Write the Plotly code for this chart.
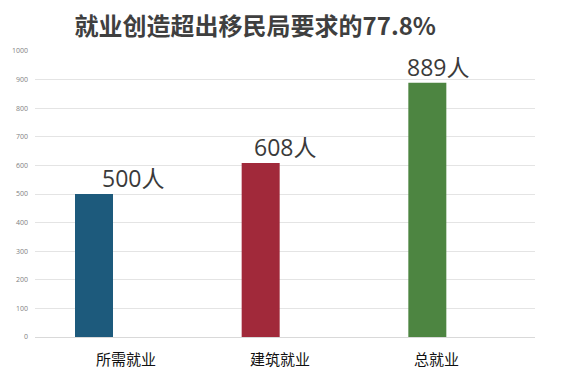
import plotly.graph_objects as go

categories = ["所需就业", "建筑就业", "总就业"]
values = [500, 608, 889]
value_labels = ["500人", "608人", "889人"]
colors = ["#1d5a7c", "#a1293a", "#4d8541"]
label_shift = [0.09, 0.0, -0.08]      # horizontal nudge of value labels (category units)
cat_shift = [0.046, -0.03, -0.094]    # horizontal nudge of category labels (category units)
title_text = "就业创造超出移民局要求的77.8%"

fig = go.Figure()
fig.add_trace(go.Bar(
    x=categories, y=values,
    marker=dict(color=colors, line=dict(width=0)),
    width=0.228, offset=-0.26,
    hoverinfo="skip",
))

for i, (v, t) in enumerate(zip(values, value_labels)):
    fig.add_annotation(
        x=i + label_shift[i], y=v, xref="x", yref="y",
        text=t, showarrow=False, yanchor="bottom", yshift=-2,
        font=dict(family="Open Sans, Noto Sans CJK SC", size=23, color="#3a3a3a"),
    )

for i, c in enumerate(categories):
    fig.add_annotation(
        x=i + cat_shift[i], y=0, xref="x", yref="paper",
        text=c, showarrow=False, yanchor="top", yshift=-9,
        font=dict(family="Noto Sans CJK SC", size=15, color="#111111"),
    )

fig.update_layout(
    width=562, height=374,
    margin=dict(l=27, r=35, t=43, b=45),
    paper_bgcolor="white", plot_bgcolor="white",
    showlegend=False,
    title=dict(
        text=title_text, x=0.44, xanchor="center", y=0.95, yanchor="middle",
        font=dict(family="Noto Sans CJK SC", size=24, color="#3f3f3f", weight="bold"),
    ),
    xaxis=dict(
        type="category", showgrid=False, showline=False, ticks="",
        showticklabels=False,
        range=[-0.5, 2.5], automargin=False,
    ),
    yaxis=dict(
        range=[0, 1000], dtick=100, showgrid=True, gridcolor="#e4e4e4", gridwidth=1,
        zeroline=True, zerolinecolor="#d9d9d9", zerolinewidth=1,
        tickfont=dict(family="Open Sans", size=7, color="#7f7f7f"),
        ticks="", ticklabelstandoff=6, automargin=False,
    ),
)

fig.write_html("out.html")
